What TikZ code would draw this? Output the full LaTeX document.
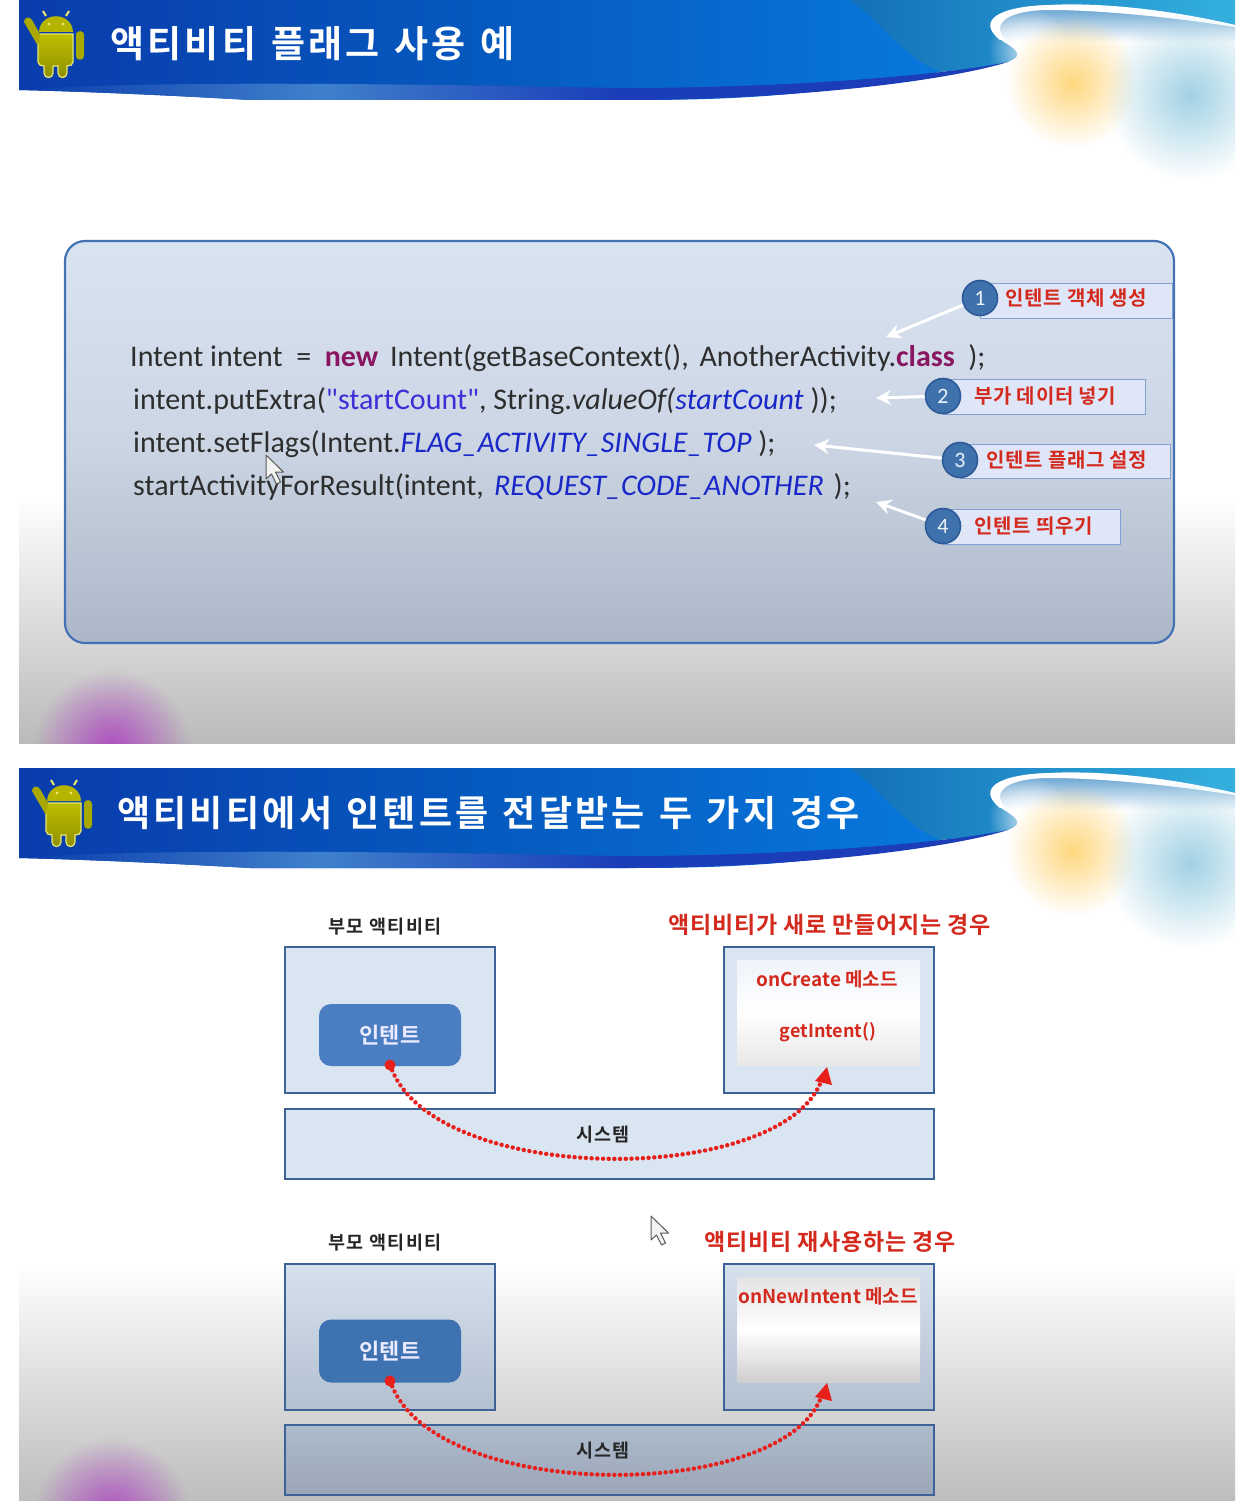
\documentclass[tikz,border=0pt]{standalone}
\usepackage{fontspec}
\setmainfont{Carlito}
\newfontfamily\cd{Carlito}
\newfontfamily\kr{Noto Sans CJK KR}[BoldFont={Noto Sans CJK KR Bold}]
\newfontfamily\krt{Noto Sans CJK KR}[BoldFont={Noto Sans CJK KR Bold},LetterSpace=9,WordSpace=1.25]
\newfontfamily\krc{Noto Sans CJK KR}[BoldFont={Noto Sans CJK KR Bold},LetterSpace=3.5]
\newfontfamily\krb{Noto Sans CJK KR}[BoldFont={Noto Sans CJK KR Bold},LetterSpace=7]
\usetikzlibrary{arrows.meta,fadings,shadings,calc}
\tikzfading[name=glow,inner color=transparent!0,outer color=transparent!100]
\definecolor{hblueA}{HTML}{0A3CAC}
\definecolor{hblueM}{HTML}{0659BE}
\definecolor{hblueB}{HTML}{0878DC}
\definecolor{boxfill}{HTML}{DAE5F2}
\definecolor{boxline}{HTML}{3D6298}
\definecolor{panelline}{HTML}{4472B4}
\definecolor{redtxt}{HTML}{D42A1E}
\definecolor{kw}{HTML}{8A1560}
\definecolor{strc}{HTML}{3A2FD8}
\definecolor{constc}{HTML}{1A28C8}
\definecolor{wedgeA}{HTML}{1270B8}
\definecolor{wedgeB}{HTML}{33B0DE}
\definecolor{capfill}{HTML}{DFE6F8}
\definecolor{capline}{HTML}{7FA0D0}
\definecolor{discfill}{HTML}{3F72AD}
\definecolor{discline}{HTML}{2C5A98}
\definecolor{panelT}{HTML}{D9E3F1}
\definecolor{panelM}{HTML}{CBD5E3}
\definecolor{panelB}{HTML}{ABB7C8}
\definecolor{lowT}{HTML}{D6E1EE}
\definecolor{lowB}{HTML}{B3C0D0}
\definecolor{sysT}{HTML}{AEBBCC}
\definecolor{sysB}{HTML}{9AA6B8}
\definecolor{pillA}{HTML}{4A7DC2}
\definecolor{pillB}{HTML}{3F72B0}
\definecolor{flowred}{HTML}{E8201C}
\definecolor{robotc}{HTML}{A8A800}
\definecolor{robotl}{HTML}{E8E870}
\definecolor{glowY}{HTML}{FFD577}
\definecolor{glowB}{HTML}{9CCFE3}
\definecolor{glowP}{HTML}{AE48C0}
\definecolor{bandmid}{HTML}{3F80CC}
\definecolor{banddark}{HTML}{1B3DB8}
\tikzset{
 x=1pt,y=-1pt,
 title/.style={font=\krt\bfseries\fontsize{36}{36}\selectfont,text=white,anchor=west,inner sep=0pt},
 bigtitle/.style={font=\krt\bfseries\fontsize{37}{37}\selectfont,text=white,anchor=west,inner sep=0pt},
 codeline/.style={font=\cd\fontsize{30}{30}\selectfont,text=black!82,anchor=west,inner sep=0pt},
 captionbox/.style={draw=capline,fill=capfill,line width=1.4pt,inner sep=0pt},
 captxt/.style={font=\krc\bfseries\fontsize{20}{20}\selectfont,text=redtxt,anchor=west,inner sep=0pt},
 disc/.style={circle,draw=discline,fill=discfill,line width=1.6pt,minimum size=35pt,inner sep=0pt,text=white!90!discfill,font=\fontsize{22}{22}\selectfont},
 whitearrow/.style={draw=white,line width=3pt,-{Stealth[length=15pt,width=15pt]}},
 actbox/.style={draw=boxline,line width=2.4pt,sharp corners},
 blk/.style={font=\krb\bfseries\fontsize{18.5}{18.5}\selectfont,text=black!85,inner sep=0pt},
 redhead/.style={font=\krc\bfseries\fontsize{23}{23}\selectfont,text=redtxt,inner sep=0pt},
 redin/.style={font=\kr\bfseries\fontsize{19}{19}\selectfont,text=redtxt,inner sep=0pt},
 pill/.style={rounded corners=12pt,fill=#1,inner sep=0pt,text=white!92!blue,font=\kr\bfseries\fontsize{22}{22}\selectfont},
 flow/.style={draw=flowred,line width=4.4pt,line cap=round,dash pattern=on 0.1pt off 5.6pt},
 reddot/.style={circle,fill=flowred,minimum size=11pt,inner sep=0pt},
 cursorshape/.style={draw=black!65,fill=white!90!gray,line width=1pt,line join=round},
}
% android robot: origin at top-left of a 61 x 68 box
\newcommand{\robot}[2]{%
\begin{scope}[shift={(#1,#2)},draw=robotl,line width=1.2pt]
 \path[top color=robotc!75!yellow,bottom color=robotc!85!black,draw=robotl] (14,24) -- (49,24) -- (49,52) .. controls (49,55) and (46,56) .. (43,56) -- (43,63) .. controls (43,69) and (34,69) .. (34,63) -- (34,56) -- (29,56) -- (29,63) .. controls (29,69) and (20,69) .. (20,63) -- (20,56) .. controls (17,56) and (14,55) .. (14,52) -- cycle;
 \path[fill=robotc!85!yellow] (15,22) .. controls (16,1) and (48,1) .. (49,22) -- cycle;
 \path[fill=robotc] (52,24) .. controls (53,20) and (60,20) .. (60,25) -- (60,46) .. controls (60,51) and (52,51) .. (52,46) -- cycle;
 \path[fill=robotc] (0,12) .. controls (0,7) and (6,6) .. (8,10) -- (16,24) -- (14,36) -- cycle;
 \draw[line width=2pt] (22,6) -- (19,1) (42,6) -- (45,1);
 \fill[robotl,draw=none] (25,14) circle (1.6) (39,14) circle (1.6);
\end{scope}}
% slide template: arguments are y of slide top and clip bottom
\newcommand{\slideback}[2]{%
\begin{scope}
\clip (19,#1) rectangle (1235,#2);
\shade[top color=white,bottom color=black!27] (19,{#1+495}) rectangle (1235,{#1+743});
\begin{scope}[shift={(0,#1)}]
\shade[left color=hblueA,right color=hblueB,middle color=hblueM]
 (19,0) -- (860,0) -- (940,72) .. controls (800,100) and (700,100) .. (620,100) -- (250,100) .. controls (180,96) and (100,92) .. (19,90) -- cycle;
\shade[left color=wedgeA,right color=wedgeB]
 (850,0) -- (1235,0) -- (1235,25) .. controls (1150,8) and (1090,4) .. (1050,5)
 .. controls (1000,6) and (980,25) .. (1004,42) .. controls (1020,52) and (1022,56) .. (1008,62)
 .. controls (985,68) and (960,70) .. (940,72) .. controls (900,55) and (885,25) .. (850,0) -- cycle;
\begin{scope}
 \clip (1235,25) .. controls (1150,8) and (1090,4) .. (1050,5) .. controls (1000,6) and (980,25) .. (1004,42) -- (1235,60) -- cycle;
 \shade[top color=wedgeA!70!white,bottom color=white] (985,5) rectangle (1235,42);
\end{scope}
\fill[white] (1235,25) .. controls (1150,5) and (1080,3) .. (1050,5) .. controls (1000,6) and (975,20) .. (1000,40)
 -- (1005,40) .. controls (990,22) and (1010,10) .. (1050,10) .. controls (1100,10) and (1170,17) .. (1235,27) -- cycle;
\fill[white,path fading=glow,opacity=.85] (1030,50) circle (42);
\shade[left color=hblueA,right color=banddark,middle color=bandmid] (19,90) .. controls (150,80) and (400,84) .. (620,88) -- (620,100) -- (250,100) .. controls (180,96) and (100,92) .. (19,90) -- cycle;
\fill[banddark] (620,100) .. controls (800,100) and (950,80) .. (1008,62) .. controls (950,74) and (800,88) .. (620,88) -- cycle;
\end{scope}
\fill[glowY,path fading=glow,opacity=.95] (1072,{#1+82}) circle (66);
\fill[glowB,path fading=glow,opacity=.95] (1190,{#1+95}) circle (85);
\fill[glowP,path fading=glow,opacity=.95] (112,{#1+748}) circle (78);
\end{scope}}
\newcommand{\pointer}[2]{%
\path[cursorshape] (#1,#2) -- ++(0,24) -- ++(5.5,-5) -- ++(5,10) -- ++(4,-2) -- ++(-5,-10) -- ++(8,0) -- cycle;}
\begin{document}
\begin{tikzpicture}
\useasboundingbox (0,0) rectangle (1241,1501);
\fill[white] (0,0) rectangle (1241,1501);
\slideback{0}{743}
\slideback{768}{1501}
\robot{24}{10}
\robot{32}{779}
\node[bigtitle] (t1) at (110,44) {액티비티 플래그 사용 예};
\node[title] (t2) at (117,813) {액티비티에서 인텐트를 전달받는 두 가지 경우};
% panel
\path[top color=panelT,bottom color=panelB,middle color=panelM,draw=panelline,line width=2.2pt,rounded corners=20pt] (65,241) rectangle (1174,643);
% code
\node[codeline] (c1) at (130,358) {Intent intent \ = \ \textcolor{kw}{\textbf{new}}\hspace{5pt} Intent(getBaseContext(),\hspace{4pt} AnotherActivity.\textcolor{kw}{\textbf{class}} \ );};
\node[codeline] (c2) at (133,401) {intent.putExtra(\textcolor{strc}{"startCount"}, String.\textit{valueOf(}\textcolor{constc}{\textit{startCount}} ));};
\node[codeline] (c3) at (133,444) {intent.setFlags(Intent.\textcolor{constc}{\textit{FLAG\_ACTIVITY\_SINGLE\_TOP}} );};
\node[codeline] (c4) at (133,487) {startActivityForResult(intent,\hspace{3.5pt} \textcolor{constc}{\textit{REQUEST\_CODE\_ANOTHER}}\hspace{3pt} );};
\pointer{266}{455}
% callouts
\node[captionbox,minimum width=192pt,minimum height=35pt,anchor=north west] (b1) at (980,283) {};
\node[captionbox,minimum width=202pt,minimum height=35pt,anchor=north west] (b2) at (943,379) {};
\node[captionbox,minimum width=210pt,minimum height=34pt,anchor=north west] (b3) at (960,444) {};
\node[captionbox,minimum width=177pt,minimum height=35pt,anchor=north west] (b4) at (943,509) {};
\node[disc] (d1) at (980,298) {1};
\node[disc] (d2) at (943,396) {2};
\node[disc] (d3) at (960,460) {3};
\node[disc] (d4) at (943,526) {4};
\node[captxt] (l1) at (1005,298) {인텐트 객체 생성};
\node[captxt] (l2) at (974,396) {부가 데이터 넣기};
\node[captxt] (l3) at (986,460) {인텐트 플래그 설정};
\node[captxt] (l4) at (974,526) {인텐트 띄우기};
\coordinate (a1) at (886,337);
\coordinate (a2) at (876,398);
\coordinate (a3) at (814,445);
\coordinate (a4) at (876,502);
\draw[whitearrow] (d1) -- (a1);
\draw[whitearrow] (d2) -- (a2);
\draw[whitearrow] (d3) -- (a3);
\draw[whitearrow] (d4) -- (a4);
% upper diagram
\node[blk] (p1) at (385,927) {부모 액티비티};
\node[redhead,anchor=west] (h1) at (668,925) {액티비티가 새로 만들어지는 경우};
\path[actbox,fill=boxfill] (285,947) rectangle (495,1093);
\path[actbox,fill=boxfill] (724,947) rectangle (934,1093);
\path[actbox,fill=boxfill] (285,1109) rectangle (934,1179);
\path[top color=boxfill!45!white,bottom color=black!9,middle color=white] (737,960) rectangle (920,1065);
\node[pill=pillA,minimum width=142pt,minimum height=62pt] (n1) at (390,1035) {인텐트};
\node[blk] (s1) at (603,1135) {시스템};
\node[redin] (m1) at (827,979) {onCreate 메소드};
\node[redin,font=\kr\bfseries\fontsize{18}{18}\selectfont] (g1) at (828,1032) {getIntent()};
\node[reddot] (f1) at (390,1065) {};
\coordinate (e1) at (827,1067);
\coordinate (e1a) at (815,1081);
\coordinate (e1b) at (832,1085);
\draw[flow] (f1) .. controls (440,1186) and (775,1186) .. (820,1084);
\fill[flowred] (e1) -- (e1a) -- (e1b) -- cycle;
% lower diagram
\node[blk] (p2) at (385,1243) {부모 액티비티};
\node[redhead,anchor=west] (h2) at (704,1242) {액티비티 재사용하는 경우};
\path[actbox,top color=lowT,bottom color=lowB] (285,1264) rectangle (495,1410);
\path[actbox,top color=lowT,bottom color=lowB] (724,1264) rectangle (934,1410);
\path[actbox,top color=sysT,bottom color=sysB] (285,1425) rectangle (934,1495);
\path[top color=black!11,bottom color=black!19,middle color=white] (737,1277) rectangle (920,1382);
\node[pill=pillB,minimum width=142pt,minimum height=63pt] (n2) at (390,1351) {인텐트};
\node[blk] (s2) at (603,1451) {시스템};
\node[redin] (m2) at (828,1296) {onNewIntent 메소드};
\node[reddot] (f2) at (390,1381) {};
\coordinate (e2) at (827,1383);
\coordinate (e2a) at (815,1397);
\coordinate (e2b) at (832,1401);
\draw[flow] (f2) .. controls (440,1502) and (775,1502) .. (820,1400);
\fill[flowred] (e2) -- (e2a) -- (e2b) -- cycle;
\pointer{651}{1216}
\end{tikzpicture}
\end{document}
